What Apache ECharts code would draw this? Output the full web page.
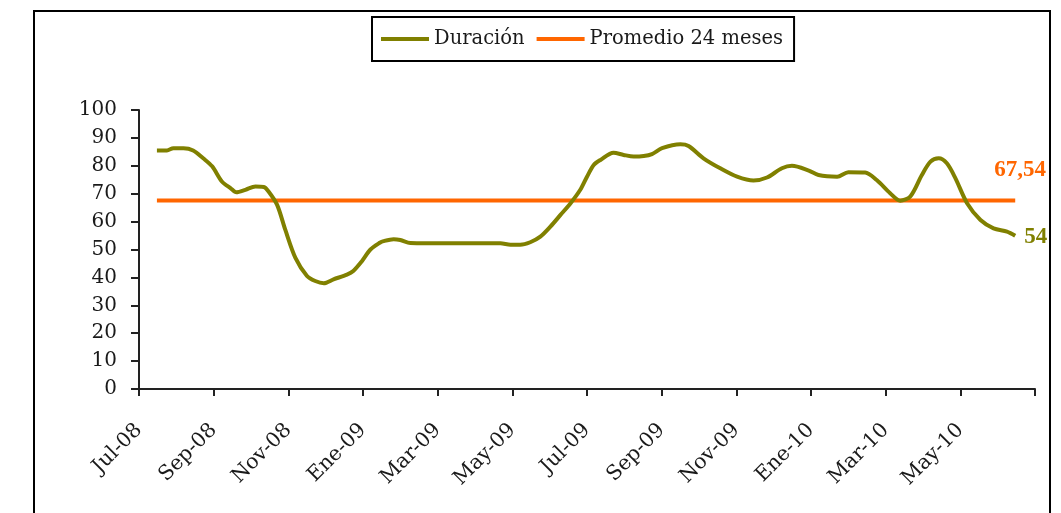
<!DOCTYPE html>
<html lang="es">
	<head>
		<meta charset="UTF-8" />
		<title>Duración</title>
		<script src="https://cdn.jsdelivr.net/npm/echarts@6/dist/echarts.min.js"></script>
		<style>
			* {
				margin: 0;
				padding: 0;
			}
			html,
			body {
				height: 100%;
				background: #fff;
			}
		</style>
	</head>
	<body>
		<div id="main" style="width:1061px;height:513px;"></div>

		<script type="text/javascript">
			// etiquetas del eje x, una cada dos meses (0 = Jul-08)
			var etiquetas = ["Jul-08", "Sep-08", "Nov-08", "Ene-09", "Mar-09", "May-09", "Jul-09", "Sep-09", "Nov-09", "Ene-10", "Mar-10", "May-10", ""];
			// posición de cada punto en meses desde Jul-08
			var meses = [
				0.48, 0.75, 0.92, 1.19, 1.45, 1.72, 1.96, 2.22, 2.45, 2.61, 2.85, 3.12, 3.34, 3.47, 3.7, 3.92, 4.19, 4.5, 4.72, 4.95,
				5.21, 5.57, 5.74, 5.97, 6.2, 6.45, 6.55, 6.82, 7.0, 7.27, 7.7, 8.2, 8.7, 9.2, 9.68, 9.95, 10.21, 10.48, 10.75, 11.02,
				11.29, 11.56, 11.82, 12.0, 12.18, 12.36, 12.71, 12.98, 13.25, 13.52, 13.74, 14.01, 14.5, 14.72, 15.12, 15.57, 16.02, 16.46, 16.82, 17.22,
				17.49, 17.94, 18.2, 18.7, 19.0, 19.45, 19.76, 20.12, 20.39, 20.66, 20.97, 21.2, 21.42, 21.64, 21.87, 22.18, 22.54, 22.89, 23.25, 23.47
			];
			var duracion = [
				85.5, 85.5, 86.3, 86.3, 85.5, 82.7, 79.8, 74.4, 72, 70.5, 71.4, 72.6, 72.4, 70.8, 66, 57, 47, 40.5, 38.7, 37.9,
				39.3, 41, 42.3, 45.8, 50, 52.4, 53, 53.7, 53.4, 52.3, 52.2, 52.2, 52.2, 52.2, 52.2, 51.7, 51.7, 52.6, 54.6, 58.2,
				62.4, 66.6, 71.4, 76.1, 80.3, 82.1, 84.7, 83.9, 83.3, 83.5, 84.2, 86.3, 87.7, 87.1, 82.7, 79.1, 76.1, 74.7, 75.8, 79.1,
				80, 78.3, 76.7, 76.1, 77.7, 77.6, 74.9, 70.2, 67.5, 69, 76.7, 81.5, 82.7, 80.9, 75.5, 66.6, 60.6, 57.6, 56.4, 54.9
			];
			var promedio = 67.54;
			var ultimoValor = "54";
			var promedioTexto = "67,54";

			var fuente = "DejaVu Serif";
			var fuenteEtiqueta = "Liberation Serif";
			var oliva = "#808000";
			var naranja = "#FF6600";

			var datosDuracion = meses.map(function (m, i) {
				return [m, duracion[i]];
			});
			var datosPromedio = [
				[meses[0], promedio],
				[meses[meses.length - 1], promedio]
			];

			var myChart = echarts.init(document.getElementById("main"));
			var option = {
				animation: false,
				color: [oliva, naranja],
				textStyle: { fontFamily: fuente, color: "#1a1a1a" },
				grid: {
					left: 139,
					right: 26,
					top: 110,
					bottom: 124
				},
				graphic: [
					{
						type: "rect",
						shape: { x: 34, y: 11, width: 1016, height: 520 },
						style: { fill: null, stroke: "#000", lineWidth: 2 }
					}
				],
				legend: {
					left: 372,
					top: 17,
					padding: [12, 11, 12, 9],
					borderColor: "#000",
					borderWidth: 2,
					itemWidth: 48,
					itemHeight: 4,
					itemGap: 12,
					icon: "rect",
					textStyle: { fontFamily: fuente, fontSize: 19.5, color: "#1a1a1a" },
					data: ["Duración", "Promedio 24 meses"]
				},
				xAxis: {
					type: "value",
					min: 0,
					max: 24,
					interval: 2,
					splitLine: { show: false },
					axisLine: { lineStyle: { color: "#222", width: 2 } },
					axisTick: { length: 7, lineStyle: { color: "#222", width: 2 } },
					axisLabel: {
						rotate: 45,
						margin: 38,
						fontFamily: fuente,
						fontSize: 20.5,
						color: "#1a1a1a",
						showMaxLabel: true,
						formatter: function (v) {
							return etiquetas[Math.round(v / 2)];
						}
					}
				},
				yAxis: {
					type: "value",
					min: 0,
					max: 100,
					interval: 10,
					splitLine: { show: false },
					axisLine: { show: true, lineStyle: { color: "#222", width: 2 } },
					axisTick: { show: true, length: 8, lineStyle: { color: "#222", width: 2 } },
					axisLabel: {
						margin: 22,
						fontFamily: fuente,
						fontSize: 20,
						color: "#1a1a1a"
					}
				},
				series: [
					{
						name: "Duración",
						type: "line",
						smooth: 0.3,
						symbol: "none",
						data: datosDuracion,
						lineStyle: { color: oliva, width: 4 },
						endLabel: {
							show: true,
							formatter: ultimoValor,
							distance: 9,
							offset: [0, 1],
							fontFamily: fuenteEtiqueta,
							fontSize: 23,
							fontWeight: "bold",
							color: oliva
						},
						z: 3
					},
					{
						name: "Promedio 24 meses",
						type: "line",
						symbol: "none",
						data: datosPromedio,
						lineStyle: { color: naranja, width: 4 },
						endLabel: {
							show: true,
							formatter: promedioTexto,
							distance: 0,
							offset: [-21, -31],
							fontFamily: fuenteEtiqueta,
							fontSize: 23,
							fontWeight: "bold",
							color: naranja
						},
						z: 2
					}
				]
			};
			myChart.setOption(option);
		</script>
	</body>
</html>
